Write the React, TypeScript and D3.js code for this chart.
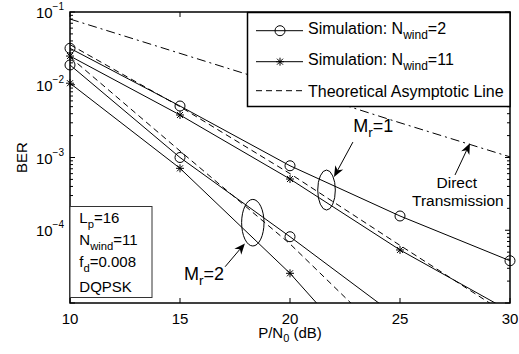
import React from "react";
import * as d3 from "d3";

// P/N0 in dB
const snrDb = [10, 15, 20, 25, 30];

// simulated BER, Mr = 1
const simWind2Mr1 = [0.0317, 5.1e-3, 7.7e-4, 1.57e-4, 3.81e-5];
const simWind11Mr1 = [0.0248, 3.84e-3, 5.06e-4, 5.36e-5, 7.7e-6];
// simulated BER, Mr = 2 (last points fall below the axis)
const simWind2Mr2 = [0.0187, 1.0e-3, 8.15e-5, 6.05e-6];
const simWind11Mr2 = [0.0105, 7.1e-4, 2.56e-5, 5.2e-7];
// theoretical asymptotic lines
const theoryMr1 = [0.0356, 5.0e-3, 6.0e-4, 6.2e-5, 6.6e-6];
const theoryMr2 = [0.024, 1.23e-3, 6.5e-5, 2.2e-6];
// direct transmission
const directTx = [0.08, 0.027, 0.0091, 3.0e-3, 1.02e-3];

const xTicks = [10, 15, 20, 25, 30];
const yTickExp = [-1, -2, -3, -4];

const legendItems = [
  { label: "Simulation: N", sub: "wind", tail: "=2", marker: "o", dash: null },
  { label: "Simulation: N", sub: "wind", tail: "=11", marker: "*", dash: null },
  { label: "Theoretical Asymptotic Line", sub: "", tail: "", marker: "", dash: "6,4" },
];

const infoLines = [
  { main: "L", sub: "p", tail: "=16" },
  { main: "N", sub: "wind", tail: "=11" },
  { main: "f", sub: "d", tail: "=0.008" },
  { main: "DQPSK", sub: "", tail: "" },
];

const FONT = "'Liberation Sans', Arial, Helvetica, sans-serif";

function drawChart(svg) {
  const width = 519;
  const height = 354;
  const margin = { top: 12, right: 9, bottom: 51, left: 70 };

  svg.selectAll("*").remove();

  const x = d3
    .scaleLinear()
    .domain([10, 30])
    .range([margin.left, width - margin.right]);

  const y = d3
    .scaleLog()
    .domain([1e-5, 1e-1])
    .range([height - margin.bottom, margin.top]);

  const x0 = margin.left;
  const x1 = width - margin.right;
  const y0 = height - margin.bottom;
  const y1 = margin.top;

  svg
    .append("defs")
    .append("clipPath")
    .attr("id", "plot-clip")
    .append("rect")
    .attr("x", x0)
    .attr("y", y1)
    .attr("width", x1 - x0)
    .attr("height", y0 - y1);

  svg.append("rect").attr("width", width).attr("height", height).attr("fill", "white");

  // ticks (inside, all four sides)
  const ticks = svg.append("g").attr("stroke", "black").attr("stroke-width", 1);
  xTicks.forEach((t) => {
    ticks.append("line").attr("x1", x(t)).attr("x2", x(t)).attr("y1", y0).attr("y2", y0 - 5);
    ticks.append("line").attr("x1", x(t)).attr("x2", x(t)).attr("y1", y1).attr("y2", y1 + 5);
  });
  for (let e = -5; e < -1 + 1; e++) {
    for (let k = 1; k <= 9; k++) {
      const v = k * Math.pow(10, e);
      if (v > 0.1 + 1e-12 || v < 1e-5 - 1e-15) continue;
      const len = k === 1 ? 5 : 3;
      ticks.append("line").attr("x1", x0).attr("x2", x0 + len).attr("y1", y(v)).attr("y2", y(v));
      ticks.append("line").attr("x1", x1).attr("x2", x1 - len).attr("y1", y(v)).attr("y2", y(v));
    }
  }

  // tick labels
  xTicks.forEach((t) => {
    svg
      .append("text")
      .attr("x", x(t))
      .attr("y", y0 + 21)
      .attr("text-anchor", "middle")
      .attr("font-size", 15)
      .text(t);
  });
  yTickExp.forEach((e) => {
    const t = svg
      .append("text")
      .attr("x", x0 - 6)
      .attr("y", y(Math.pow(10, e)) + 6)
      .attr("text-anchor", "end")
      .attr("font-size", 15);
    t.append("tspan").text("10");
    t.append("tspan").attr("dy", -8).attr("font-size", 10).text("\u2212" + -e);
  });

  // axis labels
  const xl = svg
    .append("text")
    .attr("x", x(20))
    .attr("y", y0 + 35)
    .attr("text-anchor", "middle")
    .attr("font-size", 15);
  xl.append("tspan").text("P/N");
  xl.append("tspan").attr("dy", 4).attr("font-size", 11).text("0");
  xl.append("tspan").attr("dy", -4).text(" (dB)");

  svg
    .append("text")
    .attr("transform", `translate(27,${(y0 + y1) / 2}) rotate(-90)`)
    .attr("text-anchor", "middle")
    .attr("font-size", 15)
    .text("BER");

  // curves
  const line = d3
    .line()
    .x((d) => x(d[0]))
    .y((d) => y(d[1]));

  const plot = svg.append("g").attr("clip-path", "url(#plot-clip)");
  const addLine = (vals, dash) =>
    plot
      .append("path")
      .datum(vals.map((v, i) => [snrDb[i], v]))
      .attr("fill", "none")
      .attr("stroke", "black")
      .attr("stroke-width", 1)
      .attr("stroke-dasharray", dash)
      .attr("d", line);

  addLine(directTx, "9,4,2,4");
  addLine(theoryMr1, "6,4");
  addLine(theoryMr2, "6,4");
  addLine(simWind2Mr1, null);
  addLine(simWind11Mr1, null);
  addLine(simWind2Mr2, null);
  addLine(simWind11Mr2, null);

  const drawMarker = (g, cx, cy, kind) => {
    if (kind === "o") {
      g.append("circle")
        .attr("cx", cx)
        .attr("cy", cy)
        .attr("r", 5)
        .attr("fill", "none")
        .attr("stroke", "black");
    } else if (kind === "*") {
      const s = 4;
      const d = s * 0.75;
      g.append("path")
        .attr(
          "d",
          `M${cx - s},${cy}H${cx + s}M${cx},${cy - s}V${cy + s}` +
            `M${cx - d},${cy - d}L${cx + d},${cy + d}M${cx - d},${cy + d}L${cx + d},${cy - d}`
        )
        .attr("stroke", "black")
        .attr("stroke-width", 1);
    }
  };

  const markers = svg.append("g");
  const addMarkers = (vals, kind) =>
    vals.forEach((v, i) => {
      if (v >= 1e-5 && v <= 1e-1) drawMarker(markers, x(snrDb[i]), y(v), kind);
    });
  addMarkers(simWind2Mr1, "o");
  addMarkers(simWind11Mr1, "*");
  addMarkers(simWind2Mr2, "o");
  addMarkers(simWind11Mr2, "*");

  // frame
  svg
    .append("rect")
    .attr("x", x0)
    .attr("y", y1)
    .attr("width", x1 - x0)
    .attr("height", y0 - y1)
    .attr("fill", "none")
    .attr("stroke", "black")
    .attr("stroke-width", 1.5);

  // ellipses and arrows (positions in data units)
  const ellipses = [
    { db: 21.66, ber: 3.57e-4, rx: 8.8, ry: 20 },
    { db: 18.31, ber: 1.27e-4, rx: 11.2, ry: 23.3 },
  ];
  ellipses.forEach((e) =>
    svg
      .append("ellipse")
      .attr("cx", x(e.db))
      .attr("cy", y(e.ber))
      .attr("rx", e.rx)
      .attr("ry", e.ry)
      .attr("fill", "none")
      .attr("stroke", "black")
  );

  const arrows = [
    { from: [22.86, 1.63e-3], to: [22.0, 5.4e-4] },
    { from: [17.05, 3.15e-5], to: [17.95, 6.6e-5] },
    { from: [27.5, 5.75e-4], to: [28.18, 1.57e-3] },
  ];
  arrows.forEach((a) => {
    const ax = x(a.from[0]);
    const ay = y(a.from[1]);
    const bx = x(a.to[0]);
    const by = y(a.to[1]);
    const ang = Math.atan2(by - ay, bx - ax);
    const L = 11;
    const W = 4.5;
    const ux = Math.cos(ang);
    const uy = Math.sin(ang);
    const bx0 = bx - ux * L;
    const by0 = by - uy * L;
    const nx = bx - ux * L * 0.7;
    const ny = by - uy * L * 0.7;
    svg
      .append("line")
      .attr("x1", ax)
      .attr("y1", ay)
      .attr("x2", nx)
      .attr("y2", ny)
      .attr("stroke", "black");
    svg
      .append("path")
      .attr(
        "d",
        `M${bx},${by}L${bx0 - uy * W},${by0 + ux * W}L${nx},${ny}L${bx0 + uy * W},${by0 - ux * W}Z`
      )
      .attr("fill", "black");
  });

  const subText = (px, py, main, sub, tail, size, anchor) => {
    const t = svg
      .append("text")
      .attr("x", px)
      .attr("y", py)
      .attr("font-size", size)
      .attr("text-anchor", anchor || "start");
    t.append("tspan").text(main);
    if (sub) {
      t.append("tspan").attr("dy", 5).attr("font-size", size * 0.75).text(sub);
      t.append("tspan").attr("dy", -5).text(tail);
    }
    return t;
  };

  subText(x(22.88), y(2.26e-3), "M", "r", "=1", 18);
  subText(x(15.18), y(2.07e-5), "M", "r", "=2", 18);
  svg
    .append("text")
    .attr("x", x(27.58))
    .attr("y", y(3.81e-4))
    .attr("text-anchor", "middle")
    .attr("font-size", 15.5)
    .text("Direct");
  svg
    .append("text")
    .attr("x", x(27.63))
    .attr("y", y(2.15e-4))
    .attr("text-anchor", "middle")
    .attr("font-size", 15.5)
    .text("Transmission");

  // legend
  const lg = svg.append("g");
  lg.append("rect")
    .attr("x", 247.5)
    .attr("y", 12.5)
    .attr("width", x1 - 247.5)
    .attr("height", 94)
    .attr("fill", "white")
    .attr("stroke", "black")
    .attr("stroke-width", 1.5);
  const rowY = [30.7, 61.7, 90.7];
  legendItems.forEach((it, i) => {
    const ly = rowY[i];
    lg.append("line")
      .attr("x1", 256)
      .attr("x2", 303)
      .attr("y1", ly)
      .attr("y2", ly)
      .attr("stroke", "black")
      .attr("stroke-dasharray", it.dash);
    drawMarker(lg, 280, ly, it.marker);
    const t = lg
      .append("text")
      .attr("x", 308)
      .attr("y", ly + (it.sub ? 3 : 6))
      .attr("font-size", 16);
    t.append("tspan").text(it.label);
    if (it.sub) {
      t.append("tspan").attr("dy", 5).attr("font-size", 12).text(it.sub);
      t.append("tspan").attr("dy", -5).text(it.tail);
    }
  });

  // parameter box
  svg
    .append("rect")
    .attr("x", x0)
    .attr("y", 206.5)
    .attr("width", 82)
    .attr("height", 91)
    .attr("fill", "white")
    .attr("stroke", "#333")
    .attr("stroke-width", 1);
  const infoY = [223.3, 245, 266.7, 291.7];
  infoLines.forEach((l, i) => subText(79.3, infoY[i], l.main, l.sub, l.tail, 15));

  svg.selectAll("text").attr("font-family", FONT).attr("fill", "black");
  return svg.node();
}

function BerChart() {
  const ref = React.useRef(null);
  React.useEffect(() => {
    drawChart(d3.select(ref.current));
  }, []);
  return (
    <svg
      ref={ref}
      width={519}
      height={354}
      style={{ position: "absolute", left: 0, top: 0, display: "block" }}
    />
  );
}

export default function App() {
  return <BerChart />;
}
